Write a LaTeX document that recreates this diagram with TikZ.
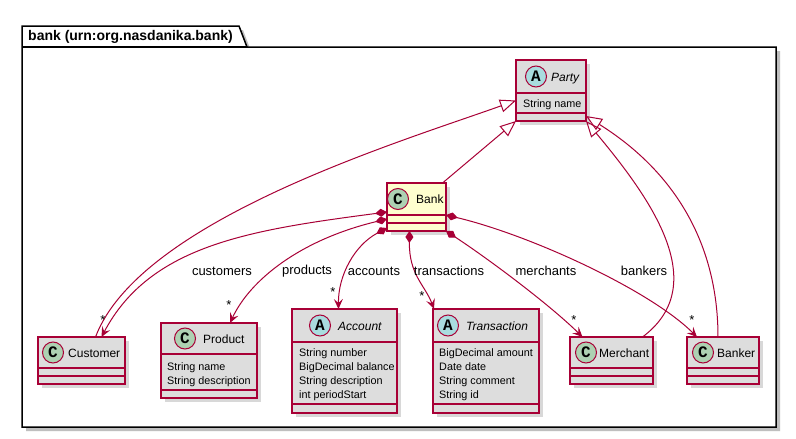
\documentclass[tikz,border=0pt]{standalone}
\usepackage{fontspec}
\setmainfont{Liberation Sans}
\setmonofont{Liberation Mono}
\usetikzlibrary{arrows.meta}
\usetikzlibrary{shadows}
\definecolor{umlred}{HTML}{A80036}
\definecolor{umlgray}{HTML}{DDDDDD}
\definecolor{umlyellow}{HTML}{FEFECE}
\definecolor{spotc}{HTML}{ADD1B2}
\definecolor{spota}{HTML}{A9DCDF}

\begin{document}
\begin{tikzpicture}[x=1pt, y=-1pt,
	box/.style={draw=umlred, fill=umlgray, line width=1.5pt, inner sep=0pt, outer sep=0pt,
		drop shadow={shadow xshift=4pt, shadow yshift=-4pt, opacity=0.3}},
	sep/.style={draw=umlred, line width=1.5pt},
	spot/.style={circle, draw=umlred, fill=#1, line width=1pt, minimum size=21pt, inner sep=0pt,
		font=\fontsize{16}{16}\selectfont\ttfamily\bfseries},
	cname/.style={anchor=west, inner sep=0pt, text height=9pt, text depth=0pt, font=\fontsize{12}{14}\selectfont},
	aname/.style={cname, font=\fontsize{12}{14}\selectfont\itshape},
	attr/.style={anchor=west, inner sep=0pt, text height=8pt, text depth=0pt, font=\fontsize{10.8}{13}\selectfont},
	role/.style={inner sep=0pt, font=\fontsize{13}{15}\selectfont},
	gen/.style={umlred, line width=1pt, -{Triangle[open, length=16pt, width=13pt, line width=1pt]}},
	comp/.style={umlred, line width=1pt, {Diamond[length=12pt, width=8pt]}-{Stealth[length=10pt, width=9pt, inset=4pt]}}]
		\useasboundingbox (0,0) rectangle (796,439);
		\fill[white] (0,0) rectangle (796,439);
		
		% package frame with its tab
		\fill[black!25] (26,51) -- (26,30) -- (243,30) -- (251,51) -- (780,51) -- (780,431) -- (26,431) -- cycle;
		\draw[line width=1.5pt, fill=white] (22,47) -- (22,26) -- (239,26) -- (247,47) -- (776,47) -- (776,427) -- (22,427) -- cycle;
		\draw[line width=1.5pt] (22,47) -- (247,47);
		\node[anchor=west, inner sep=0pt, font=\fontsize{14}{16}\selectfont\bfseries] (pkg) at (28,37) {bank (urn:org.nasdanika.bank)};
		
		% Party
		\node[box, minimum width=70pt, minimum height=61pt] (party) at (551,90.5) {};
		\draw[sep] (516,93) -- (586,93) (516,113) -- (586,113);
		\node[spot=spota] (party-s) at (536,76.5) {A};
		\node[aname] (party-n) at (551,76.5) {Party};
		\node[attr] (party-a1) at (523,103) {String name};
		
		% Bank
		\node[box, fill=umlyellow, minimum width=59pt, minimum height=48pt] (bank) at (416.5,207) {};
		\draw[sep] (387,215) -- (446,215) (387,223) -- (446,223);
		\node[spot=spotc] (bank-s) at (398,199) {C};
		\node[cname] (bank-n) at (416,199) {Bank};
		
		% Customer
		\node[box, minimum width=87pt, minimum height=47pt] (customer) at (81.5,360.5) {};
		\draw[sep] (38,368) -- (125,368) (38,376) -- (125,376);
		\node[spot=spotc] (customer-s) at (53,352.5) {C};
		\node[cname] (customer-n) at (68,352.5) {Customer};
		
		% Product
		\node[box, minimum width=96pt, minimum height=75pt] (product) at (209,360.5) {};
		\draw[sep] (161,354) -- (257,354) (161,390) -- (257,390);
		\node[spot=spotc] (product-s) at (185,338.5) {C};
		\node[cname] (product-n) at (203,338.5) {Product};
		\node[attr] (product-a1) at (167,366) {String name};
		\node[attr] (product-a2) at (167,380) {String description};
		
		% Account
		\node[box, minimum width=105pt, minimum height=104pt] (account) at (344.5,361) {};
		\draw[sep] (292,342) -- (397,342) (292,404) -- (397,404);
		\node[spot=spota] (account-s) at (320,325.5) {A};
		\node[aname] (account-n) at (338,325.5) {Account};
		\node[attr] (account-a1) at (299,352) {String number};
		\node[attr] (account-a2) at (299,366) {BigDecimal balance};
		\node[attr] (account-a3) at (299,380) {String description};
		\node[attr] (account-a4) at (299,394) {int periodStart};
		
		% Transaction
		\node[box, minimum width=106pt, minimum height=104pt] (transaction) at (486,361) {};
		\draw[sep] (433,342) -- (539,342) (433,404) -- (539,404);
		\node[spot=spota] (transaction-s) at (448,325.5) {A};
		\node[aname] (transaction-n) at (466,325.5) {Transaction};
		\node[attr] (transaction-a1) at (439,352) {BigDecimal amount};
		\node[attr] (transaction-a2) at (439,366) {Date date};
		\node[attr] (transaction-a3) at (439,380) {String comment};
		\node[attr] (transaction-a4) at (439,394) {String id};
		
		% Merchant
		\node[box, minimum width=83pt, minimum height=47pt] (merchant) at (611.5,360.5) {};
		\draw[sep] (570,368) -- (653,368) (570,376) -- (653,376);
		\node[spot=spotc] (merchant-s) at (586,352.5) {C};
		\node[cname] (merchant-n) at (599,352.5) {Merchant};
		
		% Banker
		\node[box, minimum width=72pt, minimum height=47pt] (banker) at (723,360.5) {};
		\draw[sep] (687,368) -- (759,368) (687,376) -- (759,376);
		\node[spot=spotc] (banker-s) at (703,352.5) {C};
		\node[cname] (banker-n) at (717,352.5) {Banker};
		
		% generalizations to Party
		\draw[gen] ([xshift=14pt]customer.north) .. controls (140,220) and (400,142) .. ([yshift=-10pt]party.west);
		\draw[gen] ([xshift=26pt]bank.north) -- (party.south west);
		\draw[gen] ([xshift=31pt]merchant.north) .. controls (712,285) and (652,200) .. (party.south east);
		\draw[gen] ([xshift=-5pt]banker.north) .. controls (718,250) and (680,175) .. ([yshift=5pt]party.south east);
		
		% compositions from Bank
		\draw[comp] ([yshift=-5pt]bank.west) .. controls (250,230) and (150,245) .. ([xshift=20pt]customer.north);
		\draw[comp] ([yshift=-12pt]bank.west) .. controls (300,240) and (250,280) .. ([xshift=21pt]product.north);
		\draw[comp] ([yshift=3pt]bank.south west) .. controls (355,245) and (338,275) .. ([xshift=-6pt]account.north);
		\draw[comp] ([xshift=-7pt]bank.south) .. controls (409,275) and (425,285) .. ([xshift=-52pt]transaction.north);
		\draw[comp] (bank.south east) .. controls (490,260) and (550,305) .. ([xshift=-29pt]merchant.north);
		\draw[comp] ([yshift=-8pt]bank.east) .. controls (530,235) and (650,290) .. ([xshift=-26pt]banker.north);
		
		% role names and multiplicities
		\node[role] (customers-l) at (222,271) {customers};
		\node[role] (products-l) at (307,271) {products};
		\node[role] (accounts-l) at (374,271) {accounts};
		\node[role] (transactions-l) at (449,271) {transactions};
		\node[role] (merchants-l) at (546,271) {merchants};
		\node[role] (bankers-l) at (644,271) {bankers};
		\node[role] (customers-m) at (103,320) {*};
		\node[role] (products-m) at (229,305) {*};
		\node[role] (accounts-m) at (333,292) {*};
		\node[role] (transactions-m) at (422,296) {*};
		\node[role] (merchants-m) at (574,320) {*};
		\node[role] (bankers-m) at (692,320) {*};
		
		\end{tikzpicture}
\end{document}
